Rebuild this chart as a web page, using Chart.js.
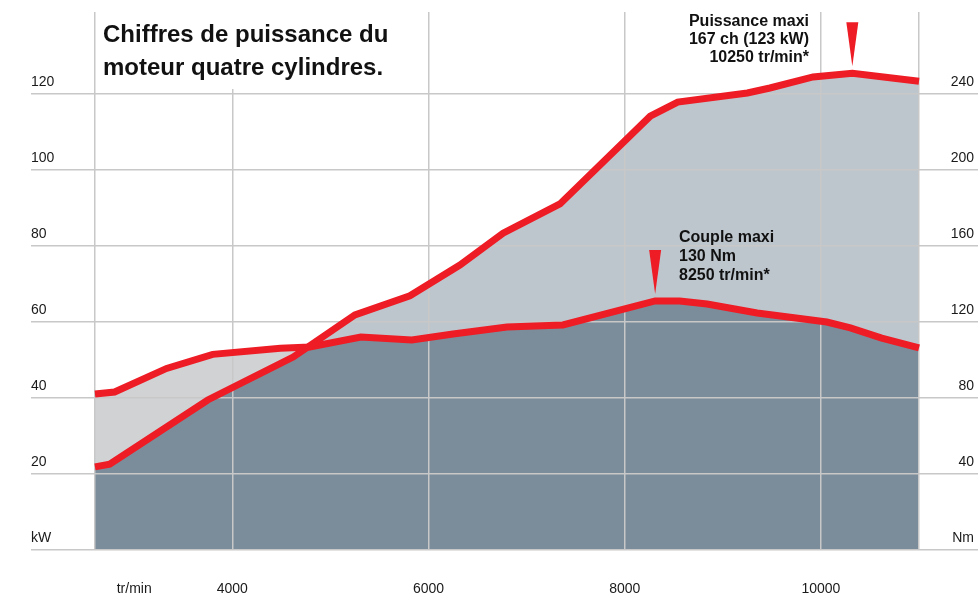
<!DOCTYPE html>
<html><head><meta charset="utf-8">
<script src="https://cdn.jsdelivr.net/npm/chart.js@4.4.1/dist/chart.umd.min.js"></script>
<style>html,body{margin:0;padding:0;background:#fff;}canvas{display:block;}</style>
</head><body>
<canvas id="c" width="978" height="599"></canvas>
<script>
// Data
const powerRpm = [2600, 2750, 3750, 4620, 5250, 5810, 6320, 6760, 7340, 8260, 8540, 9250, 9480, 9920, 10320, 11000];
const powerKW  = [21.7, 22.4, 39.3, 50.6, 61.7, 66.7, 74.8, 83.2, 90.9, 114.0, 117.7, 120.1, 121.4, 124.3, 125.3, 123.2];
const torqueRpm = [2600, 2800, 3330, 3800, 4490, 4790, 5310, 5830, 6250, 6800, 7370, 8310, 8560, 8840, 9350, 10060, 10300, 10620, 11000];
const torqueNm  = [81.7, 82.8, 95.2, 102.6, 105.8, 106.5, 111.7, 110.2, 113.3, 117.0, 118.1, 130.7, 130.7, 129.1, 124.4, 119.6, 116.5, 111.2, 106.0];

const kwTicks = [0, 20, 40, 60, 80, 100, 120];
const nmTicks = [0, 40, 80, 120, 160, 200, 240];
const rpmTicks = [2600, 3000, 4000, 6000, 8000, 10000, 11000];
const rpmTickLabels = ['', 'tr/min', '4000', '6000', '8000', '10000', ''];
const rpmGridShown = [true, false, true, true, true, true, true];

const titleLines = ['Chiffres de puissance du', 'moteur quatre cylindres.'];
const powerNote = ['Puissance maxi', '167 ch (123 kW)', '10250 tr/min*'];
const torqueNote = ['Couple maxi', '130 Nm', '8250 tr/min*'];

const RED = '#ee1c25';
const DARK = '#7b8d9a';
const LIGHT_BLUE = '#bec6cd';
const LIGHT_GRAY = '#d0d2d4';
const GRID = '#c8c8c8';
const FONT = '"Liberation Sans", Arial, Helvetica, sans-serif';

const notesPlugin = {
  id: 'notes',
  afterDraw(chart) {
    const {ctx, scales: {x, y, y2}} = chart;
    ctx.save();
    ctx.fillStyle = '#fff';
    ctx.fillRect(97.5, 12, 320, 77);
    ctx.fillStyle = '#111';
    ctx.textBaseline = 'alphabetic';
    ctx.textAlign = 'left';
    ctx.font = 'bold 24px ' + FONT;
    ctx.fillText(titleLines[0], 103, 42);
    ctx.fillText(titleLines[1], 103, 75);

    ctx.font = 'bold 16px ' + FONT;
    ctx.textAlign = 'right';
    powerNote.forEach((t, i) => ctx.fillText(t, 809, 26 + i * 18));
    ctx.textAlign = 'left';
    torqueNote.forEach((t, i) => ctx.fillText(t, 679, 242 + i * 19));

    const tri = (px, tipY) => {
      ctx.beginPath();
      ctx.moveTo(px - 6, tipY - 44);
      ctx.lineTo(px + 6, tipY - 44);
      ctx.lineTo(px, tipY);
      ctx.closePath();
      ctx.fillStyle = RED;
      ctx.fill();
    };
    const pi = powerKW.indexOf(Math.max(...powerKW));
    tri(x.getPixelForValue(powerRpm[pi]), y.getPixelForValue(powerKW[pi]) - 7);
    const ti = torqueNm.indexOf(Math.max(...torqueNm));
    tri(x.getPixelForValue(torqueRpm[ti]), y2.getPixelForValue(torqueNm[ti]) - 7);
    ctx.restore();
  }
};

new Chart(document.getElementById('c'), {
  type: 'line',
  data: {
    datasets: [
      {
        label: 'Puissance (kW)',
        data: powerRpm.map((r, i) => ({x: r, y: powerKW[i]})),
        yAxisID: 'y',
        borderColor: RED,
        borderWidth: 7,
        pointRadius: 0,
        tension: 0,
        fill: {target: 1, above: LIGHT_BLUE, below: LIGHT_GRAY}
      },
      {
        label: 'Couple (Nm)',
        data: torqueRpm.map((r, i) => ({x: r, y: torqueNm[i]})),
        yAxisID: 'y2',
        borderColor: RED,
        borderWidth: 7,
        pointRadius: 0,
        tension: 0,
        backgroundColor: DARK,
        fill: 'origin'
      }
    ]
  },
  options: {
    responsive: false,
    animation: false,
    layout: {padding: {left: 31, top: 12, right: 0, bottom: 0}},
    plugins: {
      legend: {display: false},
      tooltip: {enabled: false},
      filler: {drawTime: 'beforeDraw', propagate: false}
    },
    scales: {
      x: {
        type: 'linear',
        min: 1948,
        max: 11601,
        afterBuildTicks: s => { s.ticks = rpmTicks.map(v => ({value: v})); },
        afterFit: s => { s.height = 49.7; s.paddingLeft = 0; s.paddingRight = 0; },
        ticks: {
          autoSkip: false,
          maxRotation: 0,
          padding: 0,
          color: '#1a1a1a',
          font: {family: FONT, size: 14},
          callback: (v, i) => rpmTickLabels[i]
        },
        grid: {
          drawTicks: true,
          tickLength: 31,
          tickColor: 'rgba(0,0,0,0)',
          lineWidth: 1.5,
          color: c => rpmGridShown[c.index] ? GRID : 'rgba(0,0,0,0)'
        },
        border: {display: false}
      },
      y: {
        type: 'linear',
        position: 'left',
        min: 0,
        max: 141.4,
        afterBuildTicks: s => { s.ticks = kwTicks.map(v => ({value: v})); },
        afterFit: s => { s.width = 0; s.paddingTop = 0; s.paddingBottom = 0; },
        ticks: {
          mirror: true,
          padding: 0,
          labelOffset: -11.5,
          color: '#1a1a1a',
          font: {family: FONT, size: 14},
          callback: v => v === 0 ? 'kW' : String(v)
        },
        grid: {drawTicks: false, lineWidth: 1.5, color: GRID},
        border: {display: false}
      },
      y2: {
        type: 'linear',
        position: 'right',
        min: 0,
        max: 282.8,
        afterBuildTicks: s => { s.ticks = nmTicks.map(v => ({value: v})); },
        afterFit: s => { s.width = 0; s.paddingTop = 0; s.paddingBottom = 0; },
        ticks: {
          mirror: true,
          padding: -4,
          labelOffset: -11.5,
          color: '#1a1a1a',
          font: {family: FONT, size: 14},
          callback: v => v === 0 ? 'Nm' : String(v)
        },
        grid: {display: false, drawTicks: false},
        border: {display: false}
      }
    }
  },
  plugins: [notesPlugin]
});
</script>
</body></html>
